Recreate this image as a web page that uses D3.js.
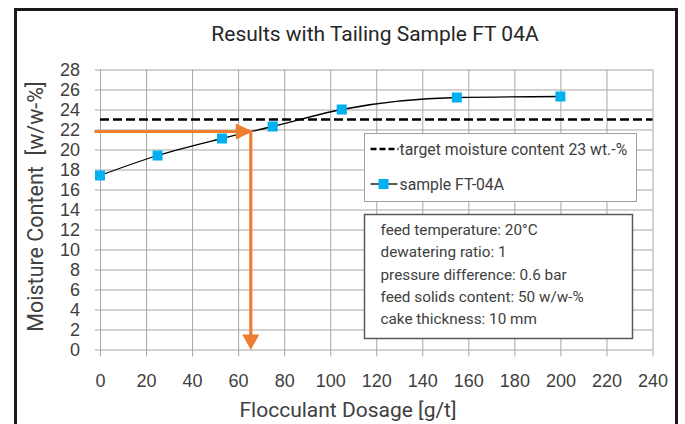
<!DOCTYPE html>
<html>
<head>
<meta charset="utf-8">
<script src="https://cdn.jsdelivr.net/npm/d3@7"></script>
<style>
  body { margin: 0; background: #fff; }
  svg { display: block; font-family: Roboto, "Noto Sans", sans-serif; }
  .grid line { stroke: #a6a6a6; stroke-width: 1; }
  .grid path { display: none; }
  .grid text { fill: #404040; font-size: 18px; }
</style>
</head>
<body>
<div id="chart"></div>
<script>
// data
const dosage = [0, 25, 53, 75, 105, 155, 200];
const moisture = [17.4, 19.4, 21.1, 22.3, 24.0, 25.2, 25.3];
const targetMoisture = 23;
const readOff = { dosage: 65.5, moisture: 21.8 };
const xTicks = [0, 20, 40, 60, 80, 100, 120, 140, 160, 180, 200, 220, 240];
const yTicks = [0, 2, 4, 6, 8, 10, 12, 14, 16, 18, 20, 22, 24, 26, 28];
const conditions = [
  "feed temperature: 20°C",
  "dewatering ratio: 1",
  "pressure difference: 0.6 bar",
  "feed solids content: 50 w/w-%",
  "cake thickness: 10 mm"
];

let margin = { top: 69.5, left: 100, right: 32.5, bottom: 74.5 },
  W = 685, H = 424,
  width = W - margin.left - margin.right,
  height = H - margin.top - margin.bottom,
  orange = "#ed7d31",
  blue = "#00b0f0",
  textColor = "#404040";

let svg = d3.select("#chart")
  .append("svg")
  .attr("width", W)
  .attr("height", H);

svg.append("rect").attr("width", W).attr("height", H).attr("fill", "#fff");

// outer frame
svg.append("rect")
  .attr("x", 15.5).attr("y", 9.5)
  .attr("width", 661).attr("height", 440)
  .attr("fill", "none").attr("stroke", "#1a1a1a").attr("stroke-width", 3);

svg.append("text")
  .attr("x", 375).attr("y", 41)
  .attr("text-anchor", "middle")
  .attr("fill", "#262626")
  .style("font-size", "21px")
  .text("Results with Tailing Sample FT 04A");

let g = svg.append("g")
  .attr("transform", "translate(" + margin.left + "," + margin.top + ")");

let xScale = d3.scaleLinear().domain([0, 240]).range([0, width]);
let yScale = d3.scaleLinear().domain([0, 28]).range([height, 0]);

// gridlines with tick stubs
let xAxis = g.append("g")
  .attr("class", "grid")
  .attr("transform", "translate(0," + height + ")")
  .call(d3.axisBottom(xScale).tickValues(xTicks).tickSize(-height).tickPadding(25));
xAxis.selectAll("line").attr("y1", 7).attr("y2", -height);

let yAxis = g.append("g")
  .attr("class", "grid")
  .call(d3.axisLeft(yScale).tickValues(yTicks).tickSize(-width).tickPadding(20));
yAxis.selectAll("line").attr("x1", -5).attr("x2", width);

// axis titles
g.append("text")
  .attr("x", 248).attr("y", height + 67.5)
  .attr("text-anchor", "middle")
  .attr("fill", textColor)
  .style("font-size", "21px")
  .text("Flocculant Dosage [g/t]");

g.append("text")
  .attr("transform", "translate(-57," + (height / 2 - 3) + ") rotate(-90)")
  .attr("text-anchor", "middle")
  .attr("fill", textColor)
  .style("font-size", "21.5px")
  .style("white-space", "pre")
  .text("Moisture Content  [w/w-%]");

// target line
g.append("line")
  .attr("x1", 0).attr("x2", width)
  .attr("y1", yScale(targetMoisture)).attr("y2", yScale(targetMoisture))
  .attr("stroke", "#000").attr("stroke-width", 2.5)
  .attr("stroke-dasharray", "9,4");

// sample curve
let line = d3.line()
  .x((d, i) => xScale(dosage[i]))
  .y(d => yScale(d))
  .curve(d3.curveMonotoneX);

g.append("path")
  .datum(moisture)
  .attr("d", line)
  .attr("fill", "none")
  .attr("stroke", "#000")
  .attr("stroke-width", 1.3);

g.selectAll(".point")
  .data(moisture)
  .enter()
  .append("rect")
  .attr("class", "point")
  .attr("x", (d, i) => xScale(dosage[i]) - 5)
  .attr("y", d => yScale(d) - 5)
  .attr("width", 10).attr("height", 10)
  .attr("fill", blue);

// orange read-off arrows
let ax = xScale(readOff.dosage), ay = yScale(readOff.moisture);
g.append("line")
  .attr("x1", -5.5).attr("x2", ax - 14)
  .attr("y1", ay).attr("y2", ay)
  .attr("stroke", orange).attr("stroke-width", 3.2);
g.append("path")
  .attr("d", "M" + (ax - 15) + "," + (ay - 8) + "L" + (ax + 2) + "," + ay + "L" + (ax - 15) + "," + (ay + 8) + "Z")
  .attr("fill", orange);
g.append("line")
  .attr("x1", ax).attr("x2", ax)
  .attr("y1", ay - 1.5).attr("y2", yScale(0) - 14)
  .attr("stroke", orange).attr("stroke-width", 3.2);
g.append("path")
  .attr("d", "M" + (ax - 8.5) + "," + (yScale(0) - 15) + "L" + ax + "," + (yScale(0) + 0.5) + "L" + (ax + 8.5) + "," + (yScale(0) - 15) + "Z")
  .attr("fill", orange);

// legend
let legend = svg.append("g").attr("transform", "translate(364.5,133.5)");
legend.append("rect")
  .attr("width", 272).attr("height", 68)
  .attr("fill", "#fff").attr("stroke", "#a0a0a0").attr("stroke-width", 1);
legend.append("line")
  .attr("x1", 6).attr("x2", 34).attr("y1", 15.5).attr("y2", 15.5)
  .attr("stroke", "#000").attr("stroke-width", 2.5).attr("stroke-dasharray", "6,3");
legend.append("text")
  .attr("x", 35).attr("y", 21)
  .attr("fill", textColor).style("font-size", "15.8px")
  .text("target moisture content 23 wt.-%");
legend.append("line")
  .attr("x1", 6).attr("x2", 33).attr("y1", 50.5).attr("y2", 50.5)
  .attr("stroke", "#000").attr("stroke-width", 1.3);
legend.append("rect")
  .attr("x", 14).attr("y", 45.5).attr("width", 10).attr("height", 10)
  .attr("fill", blue);
legend.append("text")
  .attr("x", 35).attr("y", 56)
  .attr("fill", textColor).style("font-size", "15.8px")
  .text("sample FT-04A");

// test conditions box
let info = svg.append("g").attr("transform", "translate(364.5,214.5)");
info.append("rect")
  .attr("width", 268).attr("height", 124)
  .attr("fill", "#fff").attr("stroke", "#595959").attr("stroke-width", 1.5);
info.selectAll("text")
  .data(conditions)
  .enter()
  .append("text")
  .attr("x", 16)
  .attr("y", (d, i) => 20.5 + i * 22.3)
  .attr("fill", textColor)
  .style("font-size", "15.3px")
  .text(d => d);
</script>
</body>
</html>
